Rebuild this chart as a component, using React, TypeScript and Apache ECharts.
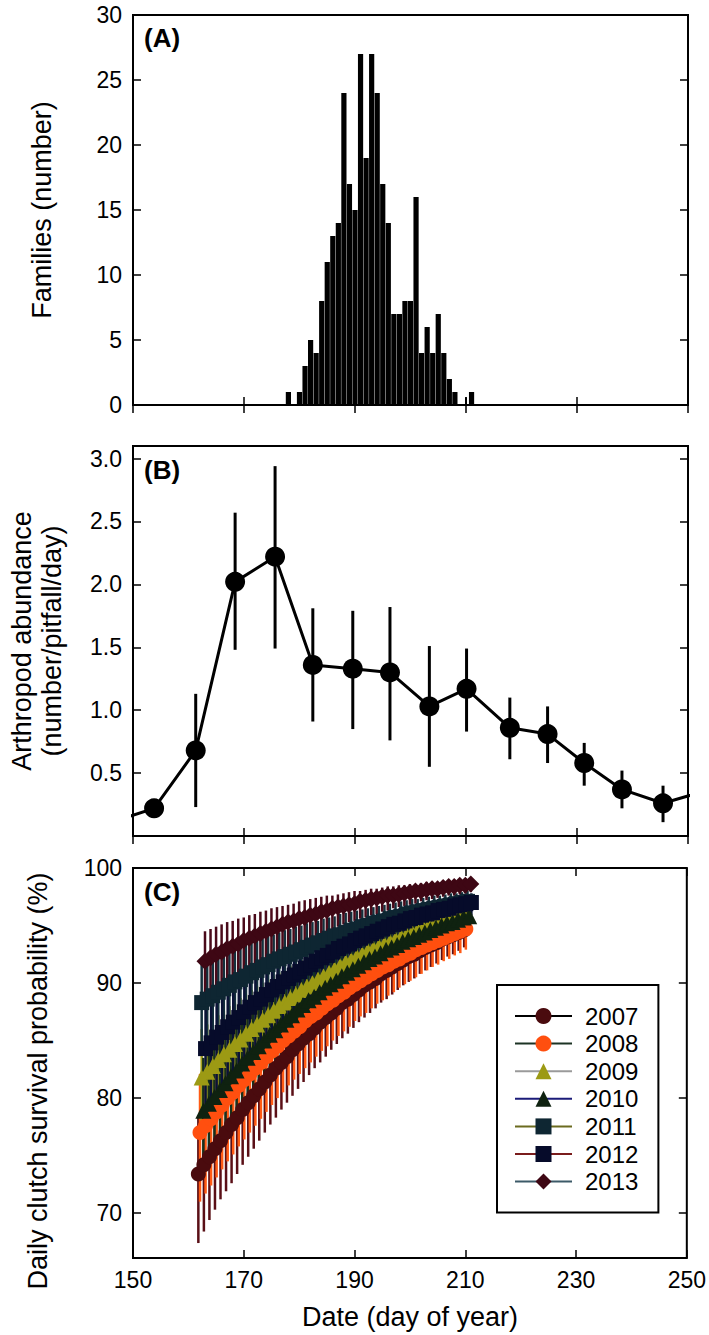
import React, { useEffect, useRef } from "react";
import * as echarts from "echarts";

const FONT = "'Liberation Sans', Arial, Helvetica, sans-serif";

// ---------- Panel A: families per day ----------
const famDays = [178, 179, 180, 181, 182, 183, 184, 185, 186, 187, 188, 189, 190, 191, 192, 193, 194, 195, 196, 197, 198, 199, 200, 201, 202, 203, 204, 205, 206, 207, 208, 209, 211];
const famCounts = [1, 0, 1, 3, 5, 4, 8, 11, 13, 14, 24, 17, 15, 27, 19, 27, 24, 17, 14, 7, 7, 8, 8, 16, 4, 6, 4, 7, 4, 2, 1, 0, 1];
const famThinDays = [210];
const famThinCounts = [0.6];
const yTicksA = [0, 5, 10, 15, 20, 25, 30];

// ---------- Panel B: arthropod abundance ----------
const arthDays = [146.8, 153.8, 161.3, 168.4, 175.6, 182.4, 189.6, 196.3, 203.4, 210.1, 217.9, 224.7, 231.3, 238.1, 245.5, 252.5];
const arthMean = [0.12, 0.22, 0.68, 2.02, 2.22, 1.36, 1.33, 1.3, 1.03, 1.17, 0.86, 0.81, 0.58, 0.37, 0.26, 0.35];
const arthLow = [null, 0.15, 0.23, 1.48, 1.49, 0.91, 0.85, 0.76, 0.55, 0.83, 0.61, 0.58, 0.4, 0.22, 0.11, null];
const arthHigh = [null, 0.29, 1.13, 2.57, 2.94, 1.81, 1.79, 1.82, 1.51, 1.49, 1.1, 1.03, 0.74, 0.52, 0.4, null];
const yTicksB = [0.5, 1.0, 1.5, 2.0, 2.5, 3.0];

// ---------- Panel C: daily clutch survival ----------
const years = ["2007", "2008", "2009", "2010", "2011", "2012", "2013"];
const survDays = [162, 163, 164, 165, 166, 167, 168, 169, 170, 171, 172, 173, 174, 175, 176, 177, 178, 179, 180, 181, 182, 183, 184, 185, 186, 187, 188, 189, 190, 191, 192, 193, 194, 195, 196, 197, 198, 199, 200, 201, 202, 203, 204, 205, 206, 207, 208, 209, 210];
const dayShift = [-0.2, 0.1, 0.4, 0.7, 0.4, 1.1, 1.0];
const yTicksC = [70, 80, 90, 100];

const s2007 = [73.4, 74.2, 74.9, 75.6, 76.3, 77.0, 77.7, 78.3, 79.0, 79.6, 80.2, 80.8, 81.4, 82.0, 82.6, 83.1, 83.6, 84.2, 84.7, 85.2, 85.6, 86.1, 86.6, 87.0, 87.4, 87.8, 88.3, 88.6, 89.0, 89.4, 89.8, 90.1, 90.4, 90.8, 91.1, 91.4, 91.7, 92.0, 92.3, 92.5, 92.8, 93.1, 93.3, 93.5, 93.8, 94.0, 94.2, 94.4, 94.6];
const lo2007 = [67.4, 68.4, 69.4, 70.3, 71.2, 71.9, 72.6, 73.4, 74.2, 74.9, 75.6, 76.3, 77.0, 77.7, 78.3, 79.0, 79.6, 80.2, 80.8, 81.4, 82.0, 82.6, 83.1, 83.6, 84.2, 84.7, 85.2, 85.6, 86.1, 86.6, 87.0, 87.4, 87.8, 88.3, 88.6, 89.0, 89.4, 89.8, 90.1, 90.4, 90.8, 91.1, 91.4, 91.7, 92.0, 92.3, 92.5, 92.8, 93.1];
const hi2007 = [78.3, 79.0, 79.6, 80.2, 80.8, 81.4, 82.0, 82.6, 83.1, 83.6, 84.2, 84.7, 85.2, 85.6, 86.1, 86.6, 87.0, 87.4, 87.8, 88.3, 88.6, 89.0, 89.4, 89.8, 90.1, 90.4, 90.8, 91.1, 91.4, 91.7, 92.0, 92.3, 92.5, 92.8, 93.1, 93.3, 93.5, 93.8, 94.0, 94.2, 94.4, 94.6, 94.8, 95.0, 95.2, 95.3, 95.5, 95.7, 95.8];

const s2008 = [77.0, 77.6, 78.2, 78.8, 79.4, 80.0, 80.5, 81.1, 81.6, 82.1, 82.6, 83.1, 83.6, 84.1, 84.5, 85.0, 85.4, 85.8, 86.2, 86.7, 87.1, 87.4, 87.8, 88.2, 88.5, 88.9, 89.2, 89.6, 89.9, 90.2, 90.5, 90.8, 91.1, 91.4, 91.6, 91.9, 92.1, 92.4, 92.6, 92.9, 93.1, 93.3, 93.5, 93.7, 93.9, 94.1, 94.3, 94.5, 94.7];
const lo2008 = [71.0, 71.7, 72.4, 73.1, 73.8, 74.5, 75.1, 75.8, 76.4, 77.0, 77.6, 78.2, 78.8, 79.4, 80.0, 80.5, 81.1, 81.6, 82.1, 82.6, 83.1, 83.6, 84.1, 84.5, 85.0, 85.4, 85.8, 86.2, 86.7, 87.1, 87.4, 87.8, 88.2, 88.5, 88.9, 89.2, 89.6, 89.9, 90.2, 90.5, 90.8, 91.1, 91.4, 91.6, 91.9, 92.1, 92.4, 92.6, 92.9];
const hi2008 = [82.1, 82.6, 83.1, 83.6, 84.1, 84.5, 85.0, 85.4, 85.8, 86.2, 86.7, 87.1, 87.4, 87.8, 88.2, 88.5, 88.9, 89.2, 89.6, 89.9, 90.2, 90.5, 90.8, 91.1, 91.4, 91.6, 91.9, 92.1, 92.4, 92.6, 92.9, 93.1, 93.3, 93.5, 93.7, 93.9, 94.1, 94.3, 94.5, 94.7, 94.9, 95.0, 95.2, 95.3, 95.5, 95.6, 95.8, 95.9, 96.1];

const s2009 = [81.8, 82.3, 82.8, 83.3, 83.8, 84.2, 84.7, 85.1, 85.6, 86.0, 86.4, 86.8, 87.2, 87.6, 88.0, 88.3, 88.7, 89.0, 89.4, 89.7, 90.0, 90.3, 90.6, 90.9, 91.2, 91.5, 91.8, 92.0, 92.3, 92.5, 92.8, 93.0, 93.2, 93.4, 93.6, 93.8, 94.0, 94.2, 94.4, 94.6, 94.8, 95.0, 95.1, 95.3, 95.4, 95.6, 95.7, 95.9, 96.0];
const lo2009 = [76.6, 77.2, 77.8, 78.4, 79.0, 79.6, 80.1, 80.7, 81.2, 81.8, 82.3, 82.8, 83.3, 83.8, 84.2, 84.7, 85.1, 85.6, 86.0, 86.4, 86.8, 87.2, 87.6, 88.0, 88.3, 88.7, 89.0, 89.4, 89.7, 90.0, 90.3, 90.6, 90.9, 91.2, 91.5, 91.8, 92.0, 92.3, 92.5, 92.8, 93.0, 93.2, 93.4, 93.6, 93.8, 94.0, 94.2, 94.4, 94.6];
const hi2009 = [86.0, 86.4, 86.8, 87.2, 87.6, 88.0, 88.3, 88.7, 89.0, 89.4, 89.7, 90.0, 90.3, 90.6, 90.9, 91.2, 91.5, 91.8, 92.0, 92.3, 92.5, 92.8, 93.0, 93.2, 93.4, 93.6, 93.8, 94.0, 94.2, 94.4, 94.6, 94.8, 95.0, 95.1, 95.3, 95.4, 95.6, 95.7, 95.9, 96.0, 96.1, 96.3, 96.4, 96.5, 96.6, 96.7, 96.8, 96.9, 97.1];

const s2010 = [78.9, 79.5, 80.1, 80.7, 81.3, 81.9, 82.4, 83.0, 83.5, 84.0, 84.5, 85.0, 85.5, 85.9, 86.4, 86.8, 87.2, 87.7, 88.1, 88.5, 88.8, 89.2, 89.6, 89.9, 90.2, 90.6, 90.9, 91.2, 91.5, 91.8, 92.1, 92.3, 92.6, 92.9, 93.1, 93.3, 93.6, 93.8, 94.0, 94.2, 94.4, 94.6, 94.8, 95.0, 95.2, 95.3, 95.5, 95.7, 95.8];
const lo2010 = [73.5, 74.2, 74.9, 75.6, 76.3, 77.0, 77.6, 78.3, 78.9, 79.5, 80.1, 80.7, 81.3, 81.9, 82.4, 83.0, 83.5, 84.0, 84.5, 85.0, 85.5, 85.9, 86.4, 86.8, 87.2, 87.7, 88.1, 88.5, 88.8, 89.2, 89.6, 89.9, 90.2, 90.6, 90.9, 91.2, 91.5, 91.8, 92.1, 92.3, 92.6, 92.9, 93.1, 93.3, 93.6, 93.8, 94.0, 94.2, 94.4];
const hi2010 = [83.5, 84.0, 84.5, 85.0, 85.5, 85.9, 86.4, 86.8, 87.2, 87.7, 88.1, 88.5, 88.8, 89.2, 89.6, 89.9, 90.2, 90.6, 90.9, 91.2, 91.5, 91.8, 92.1, 92.3, 92.6, 92.9, 93.1, 93.3, 93.6, 93.8, 94.0, 94.2, 94.4, 94.6, 94.8, 95.0, 95.2, 95.3, 95.5, 95.7, 95.8, 96.0, 96.1, 96.2, 96.4, 96.5, 96.6, 96.8, 96.9];

const s2011 = [88.3, 88.6, 88.9, 89.2, 89.5, 89.8, 90.1, 90.3, 90.6, 90.9, 91.1, 91.4, 91.6, 91.9, 92.1, 92.3, 92.5, 92.7, 92.9, 93.1, 93.3, 93.5, 93.7, 93.9, 94.1, 94.2, 94.4, 94.6, 94.7, 94.9, 95.0, 95.2, 95.3, 95.4, 95.6, 95.7, 95.8, 96.0, 96.1, 96.2, 96.3, 96.4, 96.5, 96.6, 96.7, 96.8, 96.9, 97.0, 97.1];
const lo2011 = [83.9, 84.3, 84.7, 85.1, 85.5, 85.8, 86.2, 86.6, 86.9, 87.3, 87.6, 88.0, 88.3, 88.6, 88.9, 89.2, 89.5, 89.8, 90.1, 90.3, 90.6, 90.9, 91.1, 91.4, 91.6, 91.9, 92.1, 92.3, 92.5, 92.7, 92.9, 93.1, 93.3, 93.5, 93.7, 93.9, 94.1, 94.2, 94.4, 94.6, 94.7, 94.9, 95.0, 95.2, 95.3, 95.4, 95.6, 95.7, 95.8];
const hi2011 = [91.6, 91.9, 92.1, 92.3, 92.5, 92.7, 92.9, 93.1, 93.3, 93.5, 93.7, 93.9, 94.1, 94.2, 94.4, 94.6, 94.7, 94.9, 95.0, 95.2, 95.3, 95.4, 95.6, 95.7, 95.8, 96.0, 96.1, 96.2, 96.3, 96.4, 96.5, 96.6, 96.7, 96.8, 96.9, 97.0, 97.1, 97.2, 97.3, 97.3, 97.4, 97.5, 97.6, 97.6, 97.7, 97.8, 97.8, 97.9, 98.0];

const s2012 = [84.3, 84.8, 85.3, 85.7, 86.2, 86.6, 87.0, 87.5, 87.9, 88.3, 88.6, 89.0, 89.4, 89.7, 90.1, 90.4, 90.7, 91.0, 91.3, 91.6, 91.9, 92.2, 92.4, 92.7, 93.0, 93.2, 93.4, 93.7, 93.9, 94.1, 94.3, 94.5, 94.7, 94.9, 95.1, 95.2, 95.4, 95.6, 95.7, 95.9, 96.0, 96.1, 96.3, 96.4, 96.5, 96.7, 96.8, 96.9, 97.0];
const lo2012 = [79.3, 79.9, 80.5, 81.1, 81.6, 82.2, 82.7, 83.3, 83.8, 84.3, 84.8, 85.3, 85.7, 86.2, 86.6, 87.0, 87.5, 87.9, 88.3, 88.6, 89.0, 89.4, 89.7, 90.1, 90.4, 90.7, 91.0, 91.3, 91.6, 91.9, 92.2, 92.4, 92.7, 93.0, 93.2, 93.4, 93.7, 93.9, 94.1, 94.3, 94.5, 94.7, 94.9, 95.1, 95.2, 95.4, 95.6, 95.7, 95.9];
const hi2012 = [88.3, 88.6, 89.0, 89.4, 89.7, 90.1, 90.4, 90.7, 91.0, 91.3, 91.6, 91.9, 92.2, 92.4, 92.7, 93.0, 93.2, 93.4, 93.7, 93.9, 94.1, 94.3, 94.5, 94.7, 94.9, 95.1, 95.2, 95.4, 95.6, 95.7, 95.9, 96.0, 96.1, 96.3, 96.4, 96.5, 96.7, 96.8, 96.9, 97.0, 97.1, 97.2, 97.3, 97.4, 97.5, 97.6, 97.7, 97.8, 97.8];

const s2013 = [91.9, 92.2, 92.5, 92.7, 93.0, 93.2, 93.4, 93.7, 93.9, 94.1, 94.3, 94.5, 94.7, 94.9, 95.1, 95.3, 95.4, 95.6, 95.7, 95.9, 96.0, 96.2, 96.3, 96.5, 96.6, 96.7, 96.8, 96.9, 97.1, 97.2, 97.3, 97.4, 97.5, 97.6, 97.6, 97.7, 97.8, 97.9, 98.0, 98.0, 98.1, 98.2, 98.2, 98.3, 98.4, 98.4, 98.5, 98.5, 98.6];
const lo2013 = [88.2, 88.6, 89.0, 89.3, 89.7, 90.0, 90.4, 90.7, 91.0, 91.3, 91.6, 91.9, 92.2, 92.5, 92.7, 93.0, 93.2, 93.4, 93.7, 93.9, 94.1, 94.3, 94.5, 94.7, 94.9, 95.1, 95.3, 95.4, 95.6, 95.7, 95.9, 96.0, 96.2, 96.3, 96.5, 96.6, 96.7, 96.8, 96.9, 97.1, 97.2, 97.3, 97.4, 97.5, 97.6, 97.6, 97.7, 97.8, 97.9];
const hi2013 = [94.5, 94.7, 94.9, 95.1, 95.3, 95.4, 95.6, 95.7, 95.9, 96.0, 96.2, 96.3, 96.5, 96.6, 96.7, 96.8, 96.9, 97.1, 97.2, 97.3, 97.4, 97.5, 97.6, 97.6, 97.7, 97.8, 97.9, 98.0, 98.0, 98.1, 98.2, 98.2, 98.3, 98.4, 98.4, 98.5, 98.5, 98.6, 98.6, 98.7, 98.8, 98.8, 98.8, 98.9, 98.9, 99.0, 99.0, 99.0, 99.1];

const survMean = [s2007, s2008, s2009, s2010, s2011, s2012, s2013];
const survLow = [lo2007, lo2008, lo2009, lo2010, lo2011, lo2012, lo2013];
const survHigh = [hi2007, hi2008, hi2009, hi2010, hi2011, hi2012, hi2013];

// styles
const markerColors = ["#4a0b0e", "#ff4f0f", "#9c9a14", "#0f2210", "#0e2632", "#060b2a", "#3e0714"];
const errColors = ["#5a0f16", "#ff5a14", "#a3a01c", "#17301a", "#13303c", "#0a1236", "#4a0a1a"];
const lineColors = ["#000000", "#1c3324", "#9a9a9a", "#1b1b78", "#6b6b1f", "#7a1c1c", "#3c5a68"];
const symbols = ["circle", "circle", "triangle", "triangle", "rect", "rect", "diamond"];
const symbolSizes = [15, 15, 16, 16, 15, 15, 17];

const TICK = { show: true, inside: true, length: 8, lineStyle: { color: "#000", width: 1.5 } };
const LABEL = { fontSize: 23, color: "#000", fontFamily: FONT };

function xAxisFor(grid: number, position: string, labels: boolean) {
  return {
    type: "value",
    gridIndex: grid,
    position,
    min: 150,
    max: 250,
    interval: 20,
    axisLine: { show: false },
    axisTick: TICK,
    splitLine: { show: false },
    axisLabel: { ...LABEL, show: labels, margin: 10 },
  };
}

function errorRenderer(color: string, width: number) {
  return (params: any, api: any) => {
    const x = api.value(0);
    const a = api.coord([x, api.value(1)]);
    const b = api.coord([x, api.value(2)]);
    return {
      type: "line",
      shape: { x1: a[0], y1: a[1], x2: b[0], y2: b[1] },
      style: { stroke: color, lineWidth: width },
    };
  };
}

function vtext(text: string, x: number, y: number, size: number) {
  return {
    type: "text",
    x,
    y,
    rotation: Math.PI / 2,
    silent: true,
    style: {
      text,
      font: `${size}px ${FONT}`,
      fill: "#000",
      textAlign: "center",
      textVerticalAlign: "middle",
    },
  };
}

function htext(text: string, x: number, y: number, font: string, align = "left") {
  return {
    type: "text",
    x,
    y,
    silent: true,
    style: { text, font, fill: "#000", textAlign: align, textVerticalAlign: "middle" },
  };
}

export default function App() {
  const ref = useRef<HTMLDivElement>(null);

  useEffect(() => {
    const chart = echarts.init(ref.current!, null, { renderer: "svg" });

    const gridBase = { left: 133, width: 555, height: 390, show: true, borderColor: "#000", borderWidth: 2, backgroundColor: "transparent" };

    const series: any[] = [];

    // Panel A
    series.push({
      type: "bar",
      xAxisIndex: 0,
      yAxisIndex: 0,
      data: famDays.map((d, i) => [d, famCounts[i]]),
      barWidth: 5.2,
      itemStyle: { color: "#000" },
      silent: true,
    });
    series.push({
      type: "bar",
      xAxisIndex: 1,
      yAxisIndex: 0,
      data: famThinDays.map((d, i) => [d, famThinCounts[i]]),
      barWidth: 2,
      itemStyle: { color: "#000" },
      silent: true,
    });

    // Panel B
    series.push({
      type: "line",
      xAxisIndex: 2,
      yAxisIndex: 2,
      data: arthDays.map((d, i) => [d, arthMean[i]]),
      symbol: "circle",
      symbolSize: 20,
      clip: true,
      itemStyle: { color: "#000", borderWidth: 0 },
      lineStyle: { color: "#000", width: 3 },
      silent: true,
      z: 3,
    });
    series.push({
      type: "custom",
      xAxisIndex: 2,
      yAxisIndex: 2,
      data: arthDays
        .map((d, i) => [d, arthLow[i], arthHigh[i]])
        .filter((r) => r[1] !== null && r[2] !== null),
      encode: { x: 0, y: [1, 2] },
      renderItem: errorRenderer("#000", 3),
      silent: true,
      z: 3,
    });

    // Panel C: per year, error bars first, then that year's markers
    years.forEach((yr, s) => {
      series.push({
        name: "err" + yr,
        type: "custom",
        xAxisIndex: 4,
        yAxisIndex: 4,
        data: survDays.map((d, i) => [d + dayShift[s], survLow[s][i], survHigh[s][i]]),
        encode: { x: 0, y: [1, 2] },
        renderItem: errorRenderer(errColors[s], 2.5),
        silent: true,
        z: 2,
      });
      series.push({
        name: yr,
        type: "line",
        xAxisIndex: 4,
        yAxisIndex: 4,
        data: survDays.map((d, i) => [d + dayShift[s], survMean[s][i]]),
        symbol: symbols[s],
        symbolSize: symbolSizes[s],
        showSymbol: true,
        clip: true,
        itemStyle: { color: markerColors[s], borderWidth: 0 },
        lineStyle: { color: lineColors[s], width: 1.5 },
        silent: true,
        z: 2,
      });
    });

    const option: any = {
      animation: false,
      backgroundColor: "#fff",
      textStyle: { fontFamily: FONT },
      grid: [
        { ...gridBase, top: 15 },
        { ...gridBase, top: 446 },
        { ...gridBase, top: 868 },
      ],
      xAxis: [
        xAxisFor(0, "bottom", false),
        xAxisFor(0, "top", false),
        xAxisFor(1, "bottom", false),
        xAxisFor(1, "top", false),
        xAxisFor(2, "bottom", true),
        xAxisFor(2, "top", false),
      ],
      yAxis: [
        {
          type: "value", gridIndex: 0, position: "left", min: 0, max: 30,
          axisLine: { show: false }, splitLine: { show: false },
          axisTick: { ...TICK, customValues: yTicksA },
          axisLabel: { ...LABEL, margin: 11, customValues: yTicksA },
        },
        {
          type: "value", gridIndex: 0, position: "right", min: 0, max: 30,
          axisLine: { show: false }, splitLine: { show: false },
          axisTick: { ...TICK, customValues: yTicksA },
          axisLabel: { show: false },
        },
        {
          type: "value", gridIndex: 1, position: "left", min: 0, max: 3.1,
          axisLine: { show: false }, splitLine: { show: false },
          axisTick: { ...TICK, customValues: yTicksB },
          axisLabel: { ...LABEL, margin: 11, customValues: yTicksB, formatter: (v: number) => v.toFixed(1) },
        },
        {
          type: "value", gridIndex: 1, position: "right", min: 0, max: 3.1,
          axisLine: { show: false }, splitLine: { show: false },
          axisTick: { ...TICK, customValues: yTicksB },
          axisLabel: { show: false },
        },
        {
          type: "value", gridIndex: 2, position: "left", min: 66.1, max: 100,
          axisLine: { show: false }, splitLine: { show: false },
          axisTick: { ...TICK, customValues: yTicksC },
          axisLabel: { ...LABEL, margin: 11, customValues: yTicksC },
        },
        {
          type: "value", gridIndex: 2, position: "right", min: 66.1, max: 100,
          axisLine: { show: false }, splitLine: { show: false },
          axisTick: { ...TICK, customValues: yTicksC },
          axisLabel: { show: false },
        },
      ],
      legend: {
        data: years,
        orient: "vertical",
        left: 497,
        top: 985,
        padding: [19, 20, 19, 17],
        itemGap: 3.6,
        itemWidth: 57,
        itemHeight: 20,
        borderColor: "#000",
        borderWidth: 2,
        backgroundColor: "#fff",
        selectedMode: false,
        textStyle: { fontSize: 24, fontFamily: FONT, color: "#000", lineHeight: 24, padding: [0, 0, 0, 8] },
      },
      graphic: [
        htext("(A)", 144, 38, `bold 26px ${FONT}`),
        htext("(B)", 144, 470, `bold 26px ${FONT}`),
        htext("(C)", 144, 892, `bold 26px ${FONT}`),
        vtext("Families (number)", 42, 210, 27),
        vtext("Arthropod abundance", 22, 641, 27),
        vtext("(number/pitfall/day)", 52, 641, 27),
        vtext("Daily clutch survival probability (%)", 38, 1081, 27),
        htext("Date (day of year)", 410, 1317, `27px ${FONT}`, "center"),
      ],
      series,
    };

    chart.setOption(option);
    return () => chart.dispose();
  }, []);

  return (
    <div
      ref={ref}
      style={{ position: "absolute", left: 0, top: 0, width: 709, height: 1335, background: "#fff" }}
    />
  );
}
